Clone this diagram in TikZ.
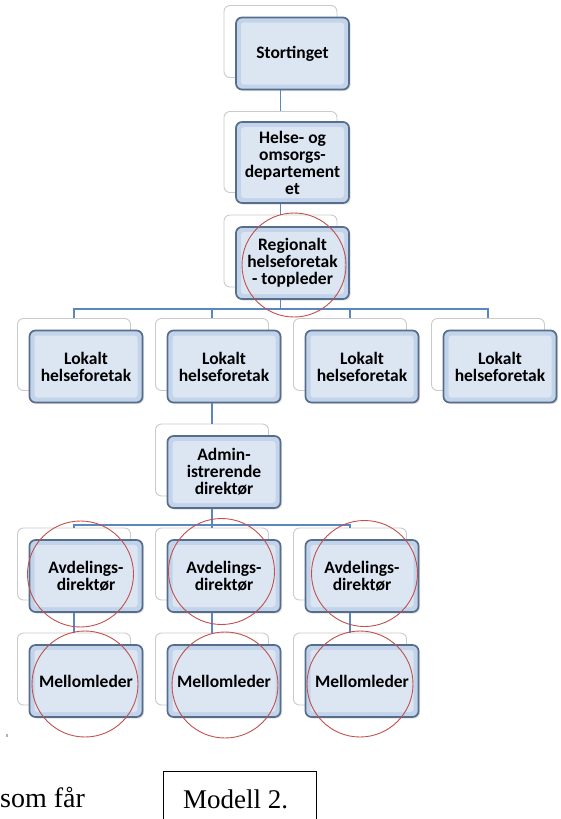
\documentclass[tikz,border=0pt]{standalone}
\usepackage{fontspec}
\setmainfont{Liberation Serif}
\newfontfamily\boxfont{Carlito}
\usetikzlibrary{shadows}
\definecolor{conn}{HTML}{5B87C0}
\definecolor{boxedge}{HTML}{566E8E}
\definecolor{boxband}{HTML}{C3D4EA}
\definecolor{boxinner}{HTML}{DCE6F3}
\definecolor{backedge}{HTML}{CACACA}
\definecolor{ring}{HTML}{C0504D}
\tikzset{
  backbox/.style={rectangle, rounded corners=6pt, minimum width=113pt, minimum height=72pt,
    fill=white, draw=backedge, line width=0.9pt, inner sep=0pt},
  frontbox/.style={rectangle, rounded corners=6pt, minimum width=113pt, minimum height=72pt,
    draw=boxedge, line width=1.7pt, fill=boxband, inner sep=0pt, align=center,
    font=\boxfont\bfseries\fontsize{17.5}{17}\selectfont,
    drop shadow={opacity=0.25, shadow xshift=1.5pt, shadow yshift=-1.5pt},
    path picture={\fill[boxinner, rounded corners=3pt]
      ([shift={(5pt,-5pt)}]path picture bounding box.north west) rectangle
      ([shift={(-5pt,5pt)}]path picture bounding box.south east);}},
  tall/.style={minimum height=81pt},
  link/.style={draw=conn, line width=1.3pt},
  ringline/.style={draw=ring, line width=0.9pt}
}
\begin{document}
\begin{tikzpicture}[x=1pt,y=1pt]
\useasboundingbox (0,0) rectangle (561,-819);
% back boxes
\node[backbox] (sb) at (280.5,-41.5) {};
\node[backbox,tall] (hb) at (280.5,-152) {};
\node[backbox] (rb) at (280.5,-251) {};
\node[backbox] (l1b) at (74,-354.5) {};
\node[backbox] (l2b) at (212,-354.5) {};
\node[backbox] (l3b) at (350,-354.5) {};
\node[backbox] (l4b) at (488,-354.5) {};
\node[backbox] (adb) at (212,-460) {};
\node[backbox] (a1b) at (74,-564) {};
\node[backbox] (a2b) at (212,-564) {};
\node[backbox] (a3b) at (350,-564) {};
\node[backbox] (m1b) at (74,-669) {};
\node[backbox] (m2b) at (212,-669) {};
\node[backbox] (m3b) at (350,-669) {};
% connectors
\coordinate (bus1) at (280.5,-309);
\coordinate (bus2) at (212,-525);
\draw[link] (sb.south) -- (hb.north);
\draw[link] (hb.south) -- (rb.north);
\draw[link] (rb.south) -- (bus1);
\draw[link] (l1b.north) |- (bus1) -| (l4b.north);
\draw[link] (l2b.north) |- (bus1);
\draw[link] (l3b.north) |- (bus1);
\draw[link] (l2b.south) -- (adb.north);
\draw[link] (adb.south) -- (bus2);
\draw[link] (a1b.north) |- (bus2) -| (a3b.north);
\draw[link] (a2b.north) -- (bus2);
\draw[link] (a1b.south) -- (m1b.north);
\draw[link] (a2b.south) -- (m2b.north);
\draw[link] (a3b.south) -- (m3b.north);
% front boxes
\node[frontbox] (s) at (292.5,-53.5) {Stortinget};
\node[frontbox,tall] (h) at (292.5,-162.5) {Helse- og\\omsorgs-\\departement\\et};
\node[frontbox] (r) at (292.5,-263) {Regionalt\\helseforetak\\- toppleder};
\node[frontbox] (l1) at (86,-366.5) {Lokalt\\helseforetak};
\node[frontbox] (l2) at (224,-366.5) {Lokalt\\helseforetak};
\node[frontbox] (l3) at (362,-366.5) {Lokalt\\helseforetak};
\node[frontbox] (l4) at (500,-366.5) {Lokalt\\helseforetak};
\node[frontbox] (ad) at (224,-472) {Admin-\\istrerende\\direktør};
\node[frontbox] (a1) at (86,-576) {Avdelings-\\direktør};
\node[frontbox] (a2) at (224,-576) {Avdelings-\\direktør};
\node[frontbox] (a3) at (362,-576) {Avdelings-\\direktør};
\node[frontbox] (m1) at (86,-681) {Mellomleder};
\node[frontbox] (m2) at (224,-681) {Mellomleder};
\node[frontbox] (m3) at (362,-681) {Mellomleder};
% red rings
\draw[ringline] (294,-265) circle (52);
\draw[ringline] (80.5,-574) circle (53);
\draw[ringline] (221.5,-571.5) circle (53);
\draw[ringline] (364.5,-573.5) circle (53);
\draw[ringline] (85,-684) circle (53);
\draw[ringline] (225,-685) circle (53);
\draw[ringline] (360,-684) circle (53);
% small mark
\fill[gray!60] (6,-733.5) rectangle (8,-737);
% bottom text
\node[anchor=base west, inner sep=0pt, font=\fontsize{28}{30}\selectfont] (som) at (0,-807) {som får};
\node[draw=black, line width=1.2pt, anchor=north west, minimum width=153pt, minimum height=60pt, inner sep=0pt] (mbox) at (163,-770.5) {};
\node[anchor=base west, inner sep=0pt, font=\fontsize{27}{30}\selectfont] (mtext) at (183,-808) {Modell 2.};
\end{tikzpicture}
\end{document}
